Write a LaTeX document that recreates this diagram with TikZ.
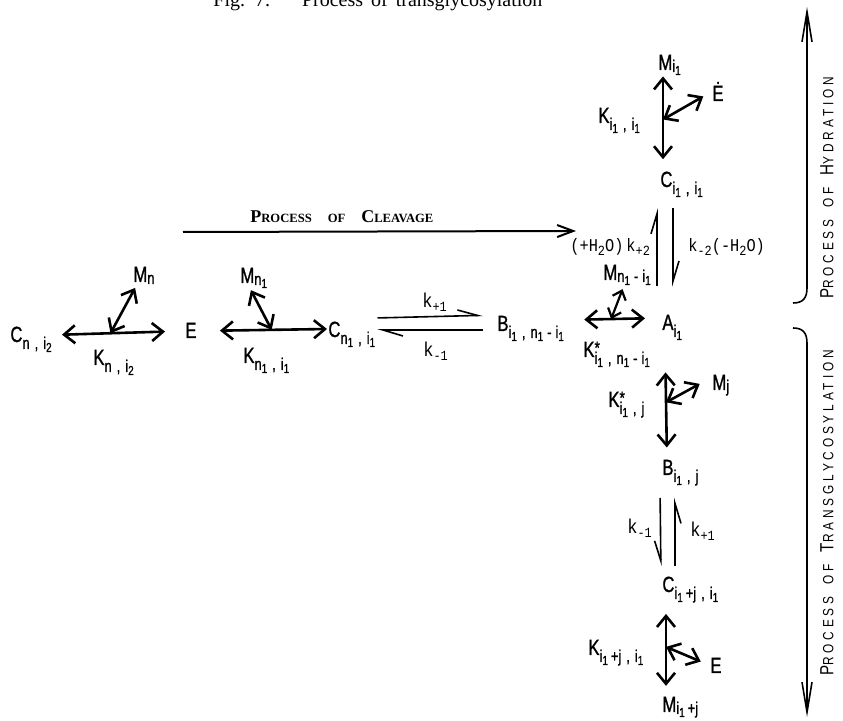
\documentclass[tikz,border=0pt]{standalone}
\usepackage{fontspec}
\setmainfont{Liberation Serif}
\newfontfamily\labf{Liberation Sans}[FakeStretch=0.76,FakeBold=1]
\newfontfamily\ratef{Liberation Mono}[FakeStretch=0.85]
\newfontfamily\procf{Liberation Sans}[FakeStretch=0.8,LetterSpace=26]
\usetikzlibrary{arrows.meta}

\newcommand\labsize{\labf\fontsize{11}{13}\selectfont}
\newcommand\ratesize{\ratef\fontsize{10}{12}\selectfont}
\newcommand\hyrate{\fontsize{9}{10}\selectfont}
\newcommand\capA{\fontsize{9}{10}\selectfont}
\newcommand\capB{\fontsize{6.3}{7}\selectfont}
\newcommand\pcA{\procf\fontsize{9.5}{10}\selectfont}
\newcommand\pcB{\procf\fontsize{7.4}{8}\selectfont}
% subscripts in the label font
\newcommand\sbs[1]{\raisebox{-3.5pt}{\fontsize{8.5}{9}\selectfont #1}}
\newcommand\ssb[1]{\raisebox{-1pt}{\fontsize{8.5}{9}\selectfont #1}}
\newcommand\nsub[1]{\raisebox{-1.5pt}{\fontsize{6.5}{7}\selectfont #1}}
\newcommand\tsub[1]{\raisebox{-2pt}{\fontsize{7}{8}\selectfont #1}}
\newcommand\cm{\hspace{2.5pt},\hspace{2.5pt}}
\newcommand\mn{\hspace{2pt}-\hspace{2pt}}
\newcommand\kst{\rlap{\raisebox{1.5pt}{\fontsize{9}{9}\selectfont *}}}

\begin{document}
\begin{tikzpicture}[x=0.5pt, y=-0.5pt,
    lab/.style={font=\labsize, anchor=base west, inner sep=0pt},
    rate/.style={font=\ratesize, anchor=base west, inner sep=0pt},
    dbl/.style={{Straight Barb[length=5.5pt,width=9pt]}-{Straight Barb[length=5.5pt,width=9pt]}, line width=1.3pt},
    smalldbl/.style={{Straight Barb[length=4pt,width=7pt]}-{Straight Barb[length=4pt,width=7pt]}, line width=1.1pt},
    harp/.style={-{Straight Barb[harpoon,length=10pt,width=6pt]}, line width=0.8pt},
    harpsw/.style={-{Straight Barb[harpoon,swap,length=10pt,width=6pt]}, line width=0.8pt},
    procarr/.style={-{Straight Barb[length=15pt,width=5pt]}, line width=0.8pt},
    proclab/.style={font=\procf, rotate=90, inner sep=0pt}]
  \useasboundingbox (0,0) rectangle (843,721);

  % caption, cut at the top edge
  \node[anchor=base west, inner sep=0pt, font=\fontsize{10}{12}\selectfont] (fig) at (213,7)
    {Fig.\hspace{5pt}7.\hspace{16pt}Process\hspace{4pt}of\hspace{4pt}transglycosylation};

  % Process of cleavage
  \coordinate (cl0) at (183,232);
  \coordinate (cl1) at (576,231);
  \draw[line width=1pt, -{Straight Barb[length=8pt,width=6pt]}] (cl0) -- (cl1);
  \node[anchor=base west, inner sep=0pt] (cleav) at (250,223)
    {\bfseries\capA P\capB ROCESS\hspace{8pt}OF\hspace{8pt}\capA C\capB LEAVAGE};

  % C_{n,i2} -- E
  \node[lab] (Cni2) at (10,342) {C\sbs{n\cm i\nsub{2}}};
  \node[lab] (E1) at (185,338) {E};
  \node[lab] (Mn) at (133,282) {M\ssb{n}};
  \node[lab] (Kni2) at (93,365) {K\sbs{n\cm i\nsub{2}}};
  \draw[dbl, shorten <=5pt, shorten >=10pt] ([yshift=3.5pt]Cni2.base east) -- ([yshift=3.5pt]E1.base west) coordinate[pos=0.44] (J1);
  \draw[dbl, shorten >=2pt] (J1) -- ([xshift=2pt]Mn.south west);

  % E -- C_{n1,i1}
  \node[lab] (Mn1) at (240,283) {M\ssb{n\nsub{1}}};
  \node[lab] (Kn1i1) at (243,363) {K\sbs{n\nsub{1}\cm i\nsub{1}}};
  \node[lab] (Cn1i1) at (328,337) {C\sbs{n\nsub{1}\cm i\nsub{1}}};
  \draw[dbl, shorten <=11.5pt, shorten >=0.5pt] ([yshift=3.5pt]E1.base east) -- ([yshift=4pt]Cn1i1.base west) coordinate[pos=0.57] (J2);
  \draw[dbl, shorten >=1pt] (J2) -- ([xshift=5pt]Mn1.south west);

  % C_{n1,i1} <=> B
  \node[lab] (Bi1n1) at (497,331) {B\sbs{i\nsub{1}\cm n\nsub{1}\mn i\nsub{1}}};
  \node[rate] (kp1a) at (422,308) {k\tsub{+1}};
  \node[rate] (km1a) at (423,357) {k\tsub{-1}};
  \draw[harp, shorten <=1pt, shorten >=7pt] ([yshift=9.5pt]Cn1i1.base east) -- ([yshift=8pt]Bi1n1.base west);
  \draw[harp, shorten <=7pt, shorten >=1pt] ([yshift=0.5pt]Bi1n1.base west) -- ([yshift=3.5pt]Cn1i1.base east);

  % A_{i1}
  \node[lab] (Ai1) at (662,330) {A\sbs{i\nsub{1}}};
  \node[lab] (Kst1) at (583,357) {K\kst\sbs{i\nsub{1}\cm n\nsub{1}\mn i\nsub{1}}};
  \node[lab] (Mn1i1) at (603,280) {M\ssb{n\nsub{1}\mn i\nsub{1}}};
  \draw[dbl, shorten <=10pt, shorten >=8.5pt] ([yshift=5.5pt]Bi1n1.base east) -- ([yshift=6pt]Ai1.base west) coordinate[pos=0.48] (J3);
  \draw[smalldbl, shorten >=2pt] (J3) -- ([xshift=10.5pt]Mn1i1.south west);

  % hydration branch
  \node[lab] (Mi1) at (658,70) {M\ssb{i\nsub{1}}};
  \node[lab] (Ki1i1) at (598,123) {K\sbs{i\nsub{1}\cm i\nsub{1}}};
  \node[lab] (Edot) at (712,101) {Ė};
  \node[lab] (Ci1i1) at (660,187) {C\sbs{i\nsub{1}\cm i\nsub{1}}};
  \draw[dbl, shorten <=0.5pt, shorten >=6pt] ([xshift=2.5pt]Mi1.south west) -- ([xshift=1.5pt]Ci1i1.north west) coordinate[pos=0.46] (J4);
  \draw[dbl, shorten >=5pt] (J4) -- (Edot.west);
  \node[rate] (kp2) at (570,252) {\hyrate(+H\tsub{2}O)\,k\tsub{+2}};
  \node[rate] (km2) at (688,252) {\hyrate k\tsub{-2}(-H\tsub{2}O)};
  \draw[harp, shorten <=14pt, shorten >=5.5pt] ([xshift=-2.5pt]Ai1.north west) -- ([xshift=-1.5pt]Ci1i1.south west);
  \draw[harp, shorten <=5.5pt, shorten >=14pt] ([xshift=6.5pt]Ci1i1.south west) -- ([xshift=5.5pt]Ai1.north west);

  % transglycosylation branch
  \node[lab] (Mj) at (712,390) {M\ssb{j}};
  \node[lab] (Kst2) at (608,407) {K\kst\sbs{i\nsub{1}\cm j}};
  \node[lab] (Bi1j) at (662,475) {B\sbs{i\nsub{1}\cm j}};
  \draw[dbl, shorten <=16pt, shorten >=6pt] ([xshift=1.5pt]Ai1.south west) -- ([xshift=2.5pt]Bi1j.north west) coordinate[pos=0.52] (J5);
  \draw[dbl, shorten >=7pt] (J5) -- ([yshift=4pt]Mj.west);
  \node[lab] (Ci1j) at (662,592) {C\sbs{i\nsub{1}\hspace{1.5pt}+j\cm i\nsub{1}}};
  \node[rate] (km1b) at (627,534) {k\tsub{-1}};
  \node[rate] (kp1b) at (690,537) {k\tsub{+1}};
  \draw[harpsw, shorten <=6pt, shorten >=5pt] ([xshift=-1pt]Bi1j.south west) -- ([xshift=-0.5pt]Ci1j.north west);
  \draw[harpsw, shorten <=5pt, shorten >=6pt] ([xshift=6.5pt]Ci1j.north west) -- ([xshift=6.5pt]Bi1j.south west);
  \node[lab] (Ki1j) at (588,655) {K\sbs{i\nsub{1}\hspace{1.5pt}+j\cm i\nsub{1}}};
  \node[lab] (E2) at (710,673) {E};
  \node[lab] (Mi1j) at (662,712) {M\ssb{i\nsub{1}\hspace{1.5pt}+j}};
  \draw[dbl, shorten <=5.5pt, shorten >=5.3pt] ([xshift=2pt]Ci1j.south west) -- ([xshift=2pt]Mi1j.north west) coordinate[pos=0.47] (J6);
  \draw[dbl, shorten >=5pt] (J6) -- (E2.west);

  % side processes
  \coordinate (hy0) at (793,303);
  \coordinate (hy1) at (807,7);
  \draw[procarr] (hy0) .. controls (803,303) and (807,298) .. (807,288) -- (hy1);
  \coordinate (tr0) at (793,328);
  \coordinate (tr1) at (807,717);
  \draw[procarr] (tr0) .. controls (803,328) and (807,333) .. (807,343) -- (tr1);
  \node[proclab] (hyd) at (827,188) {\pcA P\pcB ROCESS\hspace{6pt}OF\hspace{6pt}\pcA H\pcB YDRATION};
  \node[proclab] (trg) at (827,513) {\pcA P\pcB ROCESS\hspace{6pt}OF\hspace{6pt}\pcA T\pcB RANSGLYCOSYLATION};
\end{tikzpicture}
\end{document}
